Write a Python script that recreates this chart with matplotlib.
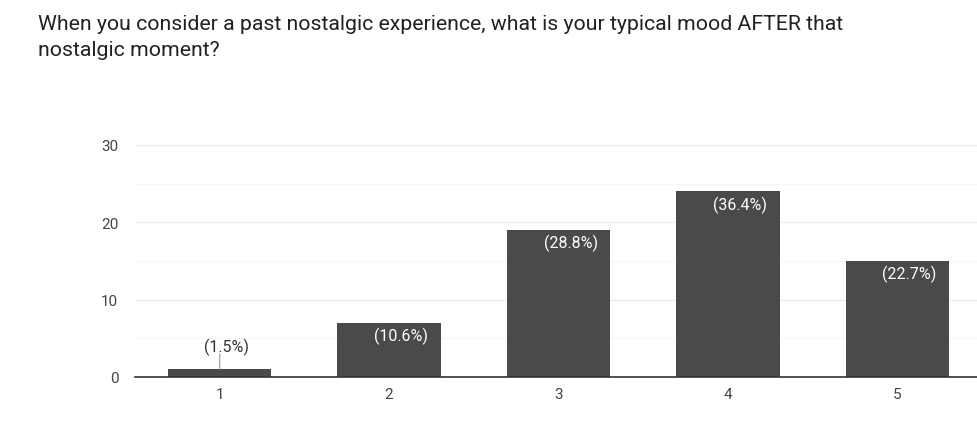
import matplotlib.pyplot as plt
import matplotlib

matplotlib.rcParams["font.family"] = ["Roboto", "DejaVu Sans"]

# survey answers (scale 1-5) and response counts
categories = ["1", "2", "3", "4", "5"]
counts = [1, 7, 19, 24, 15]
pct_labels = ["(1.5%)", "(10.6%)", "(28.8%)", "(36.4%)", "(22.7%)"]
title = ("When you consider a past nostalgic experience, what is your typical mood AFTER that\n"
         "nostalgic moment?")

bar_color = "#4a4a4a"
text_color = "#202124"
tick_color = "#444444"

fig = plt.figure(figsize=(9.77, 4.35), dpi=100)
fig.patch.set_facecolor("white")
ax = fig.add_axes([135 / 977, 57 / 435, 842 / 977, 232 / 435])

x = list(range(1, len(categories) + 1))
bars = ax.bar(x, counts, width=0.61, color=bar_color, zorder=3)

ax.set_xlim(0.5, 5.47)
ax.set_ylim(0, 30)
ax.set_yticks([0, 10, 20, 30])
ax.set_yticks([5, 15, 25], minor=True)
ax.set_xticks(x)
ax.set_xticklabels(categories)
ax.grid(axis="y", which="major", color="#ececec", linewidth=1, zorder=0)
ax.grid(axis="y", which="minor", color="#f6f6f6", linewidth=1, zorder=0)
ax.tick_params(axis="both", which="both", length=0, labelsize=11, colors=tick_color)
ax.tick_params(axis="y", pad=12)
ax.tick_params(axis="x", pad=7)
for side in ["top", "right", "left"]:
    ax.spines[side].set_visible(False)
ax.spines["bottom"].set_color("#333333")
ax.spines["bottom"].set_linewidth(1.2)
ax.spines["bottom"].set_zorder(4)

for b, val, lab in zip(bars, counts, pct_labels):
    right = b.get_x() + b.get_width()
    if val < 3:
        # small bar: label above with a short leader line
        cx = b.get_x() + b.get_width() / 2
        ax.annotate("", xy=(cx, val), xytext=(cx, val + 2.0),
                    arrowprops=dict(arrowstyle="-", color="#999999", lw=0.8,
                                    shrinkA=0, shrinkB=0))
        ax.text(cx + 0.04, val + 2.9, lab, ha="center", va="center",
                fontsize=11.5, color="#333333")
    else:
        ax.annotate(lab, xy=(right, val), xytext=(-9, -9),
                    textcoords="offset points", ha="right", va="center",
                    fontsize=11.5, color="white")

fig.text(38 / 977, 1 - 15 / 435, title, ha="left", va="top", fontsize=15.3,
         color=text_color, linespacing=1.5)

fig.savefig("out.png", dpi=100, facecolor="white")
